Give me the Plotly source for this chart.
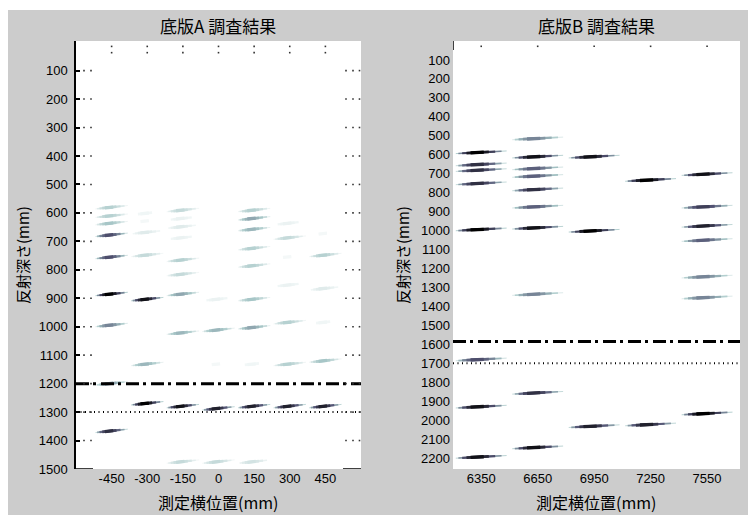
import plotly.graph_objects as go

W, H = 748, 515

# ---------------- data: 底版A ----------------
a_ticks = [-450, -300, -150, 0, 150, 300, 450]
a_pos = [-450, -450, -450, -450, -450, -450, -450, -450, -450,
         -300, -300, -300, -300, -300, -300, -300,
         -150, -150, -150, -150, -150, -150, -150, -150, -150, -150,
         0, 0, 0, 0, 0,
         150, 150, 150, 150, 150, 150, 150, 150, 150, 150,
         300, 300, 300, 300, 300, 300, 300,
         450, 450, 450, 450, 450, 450, 450]
a_depth = [580, 610, 636, 677, 755, 885, 994, 1199, 1366,
           601, 668, 748, 903, 1131, 1269, 628,
           590, 619, 648, 687, 765, 815, 885, 1021, 1279, 1474,
           903, 1011, 1131, 1287, 1474,
           590, 619, 657, 724, 785, 903, 1002, 1131, 1279, 1474,
           636, 687, 853, 984, 1131, 1279, 754,
           672, 748, 795, 865, 984, 1119, 1279]
a_amp = [0.35, 0.35, 0.4, 0.75, 0.75, 1.0, 0.6, 0.55, 0.85,
         0.12, 0.2, 0.3, 0.95, 0.45, 1.0, 0.1,
         0.3, 0.15, 0.2, 0.15, 0.35, 0.3, 0.5, 0.45, 0.95, 0.3,
         0.15, 0.45, 0.1, 0.9, 0.3,
         0.35, 0.5, 0.45, 0.35, 0.35, 0.4, 0.5, 0.12, 0.9, 0.25,
         0.15, 0.3, 0.15, 0.35, 0.35, 0.9, 0.1,
         0.1, 0.35, 0.08, 0.2, 0.12, 0.4, 0.9]
a_yticks = list(range(100, 1600, 100))
a_xrange = [-600, 600]
a_yrange = [1500, -4]
a_lines = [1200, 1300]          # dash-dot, dotted

# ---------------- data: 底版B ----------------
b_ticks = [6350, 6650, 6950, 7250, 7550]
b_pos = [6350] * 8 + [6650] * 10 + [6950] * 3 + [7250] * 2 + [7550] * 7
b_depth = [587, 651, 681, 751, 994, 1680, 1929, 2194,
           514, 610, 672, 712, 783, 874, 985, 1335, 1856, 2144,
           610, 1001, 2032,
           733, 2023,
           702, 874, 975, 1050, 1243, 1353, 1965]
b_amp = [1.0, 0.85, 0.85, 0.85, 1.0, 0.75, 0.95, 0.95,
         0.6, 0.95, 0.7, 0.7, 0.85, 0.7, 0.95, 0.6, 0.85, 0.95,
         0.95, 1.0, 0.9,
         1.0, 0.9,
         0.95, 0.8, 0.9, 0.7, 0.6, 0.6, 1.0]
b_yticks = list(range(100, 2300, 100))
b_xrange = [6200, 7725]
b_yrange = [2258, 0]
b_lines = [1585, 1700]

# ---------------- helpers ----------------
def bone_r(v):
    g = 1.0 - max(0.0, min(1.0, v))
    rh = min(1.0, g / 0.375)
    gh = max(0.0, min(1.0, (g - 0.375) / 0.375))
    bh = max(0.0, min(1.0, (g - 0.75) / 0.25))
    r = (7 * g + bh) / 8
    gg = (7 * g + gh) / 8
    b = (7 * g + rh) / 8
    return "rgb(%d,%d,%d)" % (round(r * 255), round(gg * 255), round(b * 255))

# (start frac, end frac, line width, strength) -- spindle shaped reflection mark
LAYERS = [(-1.0, 1.0, 1.0, 0.35), (-0.9, 0.8, 1.6, 0.6), (-0.75, 0.55, 2.2, 0.8),
          (-0.58, 0.3, 2.8, 0.92), (-0.42, 0.1, 3.3, 1.0)]

fig = go.Figure()

def add_blobs(pos, depth, amp, halfw, tilt, xa, ya):
    for x0, d, a in zip(pos, depth, amp):
        for s, e, w, k in LAYERS:
            v = (a * k) ** 1.5
            if v < 0.03:
                continue
            fig.add_trace(go.Scatter(
                x=[x0 + s * halfw, x0 + e * halfw],
                y=[d - tilt * s, d - tilt * e],
                mode="lines", line=dict(color=bone_r(v), width=w),
                xaxis=xa, yaxis=ya, showlegend=False, hoverinfo="skip"))

add_blobs(a_pos, a_depth, a_amp, 68, 6, "x", "y")
add_blobs(b_pos, b_depth, b_amp, 135, 7, "x2", "y2")

def ref_lines(xr, lines, xa, ya):
    fig.add_trace(go.Scatter(x=xr, y=[lines[0]] * 2, mode="lines",
                             line=dict(color="black", width=3, dash="13px,4px,3px,5px"),
                             xaxis=xa, yaxis=ya, showlegend=False, hoverinfo="skip"))
    fig.add_trace(go.Scatter(x=xr, y=[lines[1]] * 2, mode="lines",
                             line=dict(color="black", width=2, dash="1px,3.5px"),
                             xaxis=xa, yaxis=ya, showlegend=False, hoverinfo="skip"))

ref_lines(a_xrange, a_lines, "x", "y")
ref_lines(b_xrange, b_lines, "x2", "y2")

# edge dots of panel A (at each depth tick)
ux = (a_xrange[1] - a_xrange[0]) / 285.0
ex, ey = [], []
for t in a_yticks[:-1]:
    for off in (8, 15):
        ex.append(a_xrange[0] + off * ux); ey.append(t)
    for off in (1.5, 8, 15):
        ex.append(a_xrange[1] - off * ux); ey.append(t)
# top dots of panel A
for c in a_ticks:
    for dd in (15, 37):
        ex.append(c); ey.append(dd)
fig.add_trace(go.Scatter(x=ex, y=ey, mode="markers",
                         marker=dict(symbol="square", size=1.6, color="#333"),
                         xaxis="x", yaxis="y", showlegend=False, hoverinfo="skip"))
# bottom baseline pieces of panel A
fig.add_trace(go.Scatter(x=[a_xrange[0], a_xrange[0] + 17 * ux, None,
                            a_xrange[1] - 18 * ux, a_xrange[1]],
                         y=[a_yrange[0]] * 2 + [None] + [a_yrange[0]] * 2,
                         mode="lines", line=dict(color="black", width=1.5),
                         xaxis="x", yaxis="y", showlegend=False, hoverinfo="skip"))
# top dots of panel B
bx, by = [], []
for c in b_ticks:
    bx.append(c); by.append(28)
fig.add_trace(go.Scatter(x=bx, y=by, mode="markers",
                         marker=dict(symbol="square", size=1.6, color="#333"),
                         xaxis="x2", yaxis="y2", showlegend=False, hoverinfo="skip"))
fig.add_trace(go.Scatter(x=[b_xrange[0], b_xrange[0]], y=[0, 48], mode="lines",
                         line=dict(color="black", width=1.5),
                         xaxis="x2", yaxis="y2", showlegend=False, hoverinfo="skip"))

tickfont = dict(family="Liberation Sans Narrow, Liberation Sans, Arial", size=13, color="black")
ydom = [1 - 469 / H, 1 - 41 / H]

fig.update_layout(
    width=W, height=H, margin=dict(l=0, r=0, t=0, b=0),
    paper_bgcolor="#cccccc", plot_bgcolor="white",
    xaxis=dict(domain=[76 / W, 361 / W], range=a_xrange, tickvals=a_ticks,
               ticktext=[str(t) for t in a_ticks],
               showgrid=False, zeroline=False, showline=False, ticks="",
               tickfont=tickfont, automargin=False, anchor="y"),
    yaxis=dict(domain=ydom, range=a_yrange, tickvals=a_yticks,
               showgrid=False, zeroline=False, showline=True, linecolor="black",
               linewidth=1.5, ticks="inside", ticklen=4, tickcolor="black",
               tickwidth=1.5, tickfont=tickfont, automargin=False, anchor="x",
               ticklabelstandoff=4),
    xaxis2=dict(domain=[453 / W, 740 / W], range=b_xrange, tickvals=b_ticks,
                showgrid=False, zeroline=False, showline=False, ticks="",
                tickfont=tickfont, automargin=False, anchor="y2"),
    yaxis2=dict(domain=ydom, range=b_yrange, tickvals=b_yticks,
                showgrid=False, zeroline=False, showline=False, ticks="",
                tickfont=tickfont, automargin=False, anchor="x2",
                ticklabelstandoff=2),
)

cjk = "Noto Sans CJK JP"
def ann(text, px, py, size, angle=0):
    fig.add_annotation(text=text, x=px / W, y=1 - py / H, xref="paper", yref="paper",
                       showarrow=False, textangle=angle, borderpad=0,
                       font=dict(family=cjk, size=size, color="black"),
                       xanchor="center", yanchor="middle")

ann("底版A 調査結果", 218, 26, 17)
ann("底版B 調査結果", 596, 26, 17)
ann("測定横位置(mm)", 218, 502, 16)
ann("測定横位置(mm)", 596, 502, 16)
ann("反射深さ(mm)", 22, 255, 15, -90)
ann("反射深さ(mm)", 402, 255, 15, -90)

# white strips at the top and left edge
fig.add_shape(type="rect", xref="paper", yref="paper", x0=0, x1=1, y0=1 - 10 / H, y1=1,
              fillcolor="white", line=dict(width=0))
fig.add_shape(type="rect", xref="paper", yref="paper", x0=0, x1=8 / W, y0=0, y1=1,
              fillcolor="white", line=dict(width=0))

fig.write_html("out.html")
